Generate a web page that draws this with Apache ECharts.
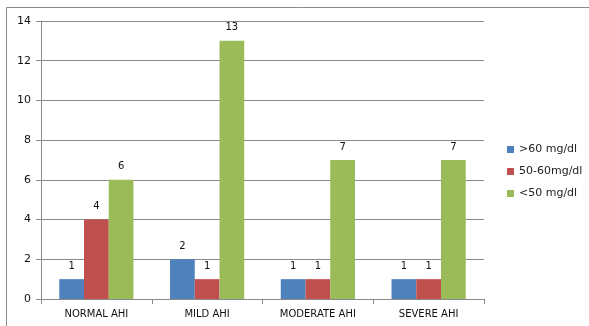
<!DOCTYPE html>
<html>
<head>
<meta charset="utf-8">
<script src="https://cdn.jsdelivr.net/npm/echarts@6/dist/echarts.min.js"></script>
<style>
  html, body { margin: 0; padding: 0; background: #fff; }
  #chart { width: 589px; height: 326px; }
</style>
</head>
<body>
<div id="chart"></div>
<script>
// AHI severity groups and HDL counts per group
const categories = ['NORMAL AHI', 'MILD AHI', 'MODERATE AHI', 'SEVERE AHI'];
const seriesNames = ['>60 mg/dl', '50-60mg/dl', '<50 mg/dl'];
const over60 = [1, 2, 1, 1];
const from50to60 = [4, 1, 1, 1];
const under50 = [6, 13, 7, 7];
const colors = ['#4f81bd', '#c0504d', '#9bbb59'];

const font = 'DejaVu Sans, Verdana, sans-serif';
const chart = echarts.init(document.getElementById('chart'), null, { renderer: 'canvas' });

const seriesData = [over60, from50to60, under50];

chart.setOption({
  animation: false,
  backgroundColor: '#ffffff',
  graphic: [{
    type: 'rect',
    shape: { x: 6.5, y: 7.5, width: 640, height: 400 },
    style: { fill: 'none', stroke: '#8a8a8a', lineWidth: 1 },
    silent: true
  }],
  grid: { left: 41, top: 21, right: 105, bottom: 27, containLabel: false },
  legend: {
    orient: 'vertical',
    left: 502,
    top: 139,
    itemWidth: 7,
    itemHeight: 7,
    itemGap: 11,
    icon: 'rect',
    textStyle: { fontFamily: font, fontSize: 11, color: '#222' },
    data: seriesNames
  },
  xAxis: {
    type: 'category',
    data: categories,
    axisLine: { lineStyle: { color: '#8a8a8a', width: 1 } },
    axisTick: { show: true, length: 5, inside: false, lineStyle: { color: '#8a8a8a' } },
    axisLabel: { fontFamily: font, fontSize: 10, color: '#111', margin: 10 }
  },
  yAxis: {
    type: 'value',
    min: 0,
    max: 14,
    interval: 2,
    axisLine: { show: true, lineStyle: { color: '#8a8a8a', width: 1 } },
    axisTick: { show: true, length: 5, lineStyle: { color: '#8a8a8a' } },
    axisLabel: { fontFamily: font, fontSize: 11, color: '#111', margin: 10 },
    splitLine: { show: true, lineStyle: { color: '#8a8a8a', width: 1 } }
  },
  series: seriesNames.map((name, i) => ({
    name: name,
    type: 'bar',
    data: seriesData[i],
    barGap: '0%',
    barCategoryGap: '33%',
    itemStyle: { color: colors[i] },
    label: {
      show: true,
      position: 'top',
      distance: 8,
      fontFamily: font,
      fontSize: 10,
      color: '#111'
    }
  }))
});
</script>
</body>
</html>
